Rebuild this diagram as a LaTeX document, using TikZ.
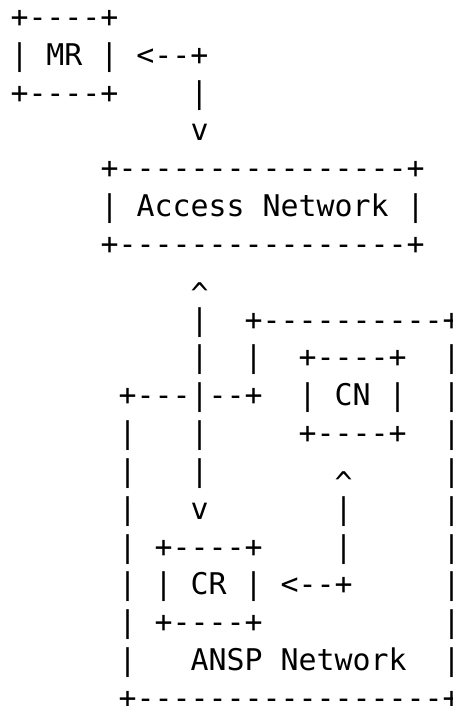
\documentclass[tikz,border=0pt]{standalone}
\usepackage{fontspec}
\setmonofont{DejaVu Sans Mono}
\newcommand{\caretsym}{\smash{\raisebox{-12pt}{\textasciicircum}}}
\begin{document}
\begin{tikzpicture}[x=1pt,y=1pt,
  asciiline/.style={anchor=base west,inner sep=0pt,outer sep=0pt,
    font=\ttfamily\fontsize{29.9}{37.8}\selectfont}]
\useasboundingbox (0,0) rectangle (452,706);
\fill[white] (0,0) rectangle (452,706);
\clip (0,0) rectangle (452,706);
\def\xl{10.5}
\def\yt{678.5}
\def\ls{37.83}
\node[asciiline] (l0)  at (\xl,\yt-0*\ls)  {+----+};
\node[asciiline] (l1)  at (\xl,\yt-1*\ls)  {|~MR~|~<--+};
\node[asciiline] (l2)  at (\xl,\yt-2*\ls)  {+----+~~~~|};
\node[asciiline] (l3)  at (\xl,\yt-3*\ls)  {~~~~~~~~~~v};
\node[asciiline] (l4)  at (\xl,\yt-4*\ls)  {~~~~~+----------------+};
\node[asciiline] (l5)  at (\xl,\yt-5*\ls)  {~~~~~|~Access~Network~|};
\node[asciiline] (l6)  at (\xl,\yt-6*\ls)  {~~~~~+----------------+};
\node[asciiline] (l7)  at (\xl,\yt-7*\ls)  {~~~~~~~~~~\caretsym};
\node[asciiline] (l8)  at (\xl,\yt-8*\ls)  {~~~~~~~~~~|~~+----------+};
\node[asciiline] (l9)  at (\xl,\yt-9*\ls)  {~~~~~~~~~~|~~|~~+----+~~|};
\node[asciiline] (l10) at (\xl,\yt-10*\ls) {~~~~~~+---|--+~~|~CN~|~~|};
\node[asciiline] (l11) at (\xl,\yt-11*\ls) {~~~~~~|~~~|~~~~~+----+~~|};
\node[asciiline] (l12) at (\xl,\yt-12*\ls) {~~~~~~|~~~|~~~~~~~\caretsym~~~~~|};
\node[asciiline] (l13) at (\xl,\yt-13*\ls) {~~~~~~|~~~v~~~~~~~|~~~~~|};
\node[asciiline] (l14) at (\xl,\yt-14*\ls) {~~~~~~|~+----+~~~~|~~~~~|};
\node[asciiline] (l15) at (\xl,\yt-15*\ls) {~~~~~~|~|~CR~|~<--+~~~~~|};
\node[asciiline] (l16) at (\xl,\yt-16*\ls) {~~~~~~|~+----+~~~~~~~~~~|};
\node[asciiline] (l17) at (\xl,\yt-17*\ls) {~~~~~~|~~~ANSP~Network~~|};
\node[asciiline] (l18) at (\xl,\yt-18*\ls) {~~~~~~+-----------------+};
\end{tikzpicture}
\end{document}
